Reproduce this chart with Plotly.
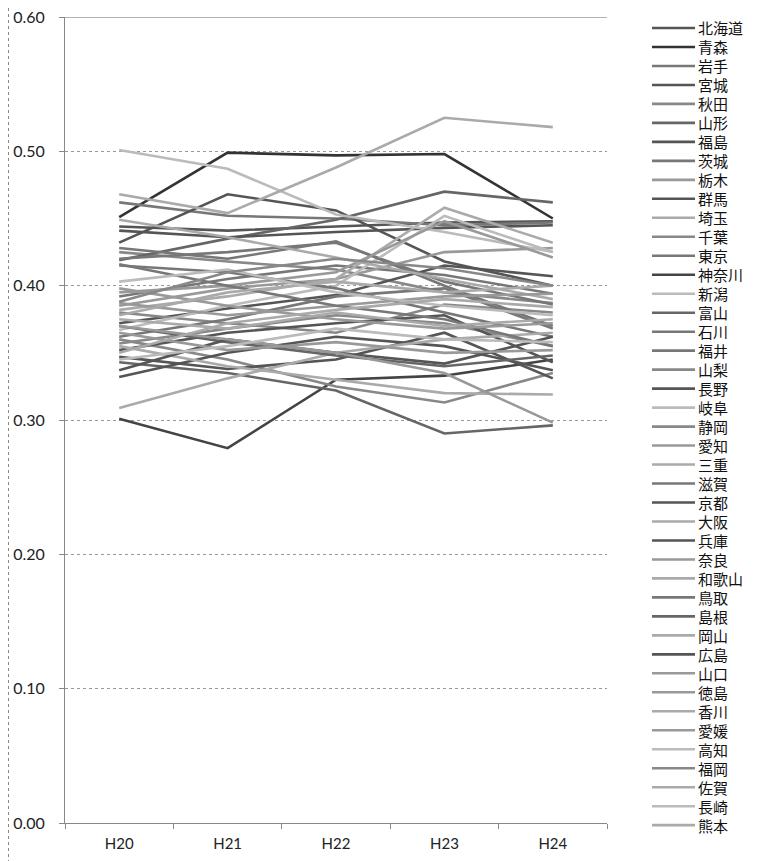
import plotly.graph_objects as go

years = ["H20", "H21", "H22", "H23", "H24"]

prefectures = ["北海道", "青森", "岩手", "宮城", "秋田", "山形", "福島", "茨城", "栃木", "群馬",
               "埼玉", "千葉", "東京", "神奈川", "新潟", "富山", "石川", "福井", "山梨", "長野",
               "岐阜", "静岡", "愛知", "三重", "滋賀", "京都", "大阪", "兵庫", "奈良", "和歌山",
               "鳥取", "島根", "岡山", "広島", "山口", "徳島", "香川", "愛媛", "高知", "福岡",
               "佐賀", "長崎", "熊本"]

values = [
    [0.444, 0.441, 0.444, 0.447, 0.448],  # 北海道
    [0.451, 0.499, 0.497, 0.498, 0.450],  # 青森
    [0.462, 0.452, 0.450, 0.445, 0.447],  # 岩手
    [0.432, 0.468, 0.456, 0.418, 0.400],  # 宮城
    [0.425, 0.418, 0.412, 0.395, 0.387],  # 秋田
    [0.419, 0.435, 0.449, 0.470, 0.462],  # 山形
    [0.441, 0.436, 0.440, 0.443, 0.445],  # 福島
    [0.392, 0.405, 0.415, 0.408, 0.394],  # 茨城
    [0.385, 0.398, 0.405, 0.425, 0.428],  # 栃木
    [0.372, 0.383, 0.393, 0.415, 0.407],  # 群馬
    [0.382, 0.392, 0.405, 0.458, 0.432],  # 埼玉
    [0.380, 0.372, 0.365, 0.386, 0.380],  # 千葉
    [0.420, 0.425, 0.432, 0.403, 0.386],  # 東京
    [0.301, 0.279, 0.330, 0.333, 0.345],  # 神奈川
    [0.367, 0.385, 0.400, 0.452, 0.425],  # 新潟
    [0.343, 0.335, 0.322, 0.290, 0.296],  # 富山
    [0.428, 0.420, 0.433, 0.400, 0.370],  # 石川
    [0.415, 0.410, 0.398, 0.380, 0.362],  # 福井
    [0.360, 0.345, 0.325, 0.313, 0.335],  # 山梨
    [0.332, 0.350, 0.362, 0.355, 0.337],  # 長野
    [0.501, 0.487, 0.453, 0.440, 0.425],  # 岐阜
    [0.357, 0.368, 0.378, 0.372, 0.355],  # 静岡
    [0.395, 0.400, 0.410, 0.448, 0.421],  # 愛知
    [0.468, 0.454, 0.488, 0.525, 0.518],  # 三重
    [0.362, 0.375, 0.392, 0.398, 0.368],  # 滋賀
    [0.347, 0.338, 0.345, 0.365, 0.331],  # 京都
    [0.449, 0.436, 0.421, 0.405, 0.390],  # 大阪
    [0.352, 0.365, 0.372, 0.378, 0.343],  # 兵庫
    [0.387, 0.378, 0.385, 0.392, 0.394],  # 奈良
    [0.309, 0.331, 0.350, 0.360, 0.365],  # 和歌山
    [0.416, 0.400, 0.385, 0.375, 0.355],  # 鳥取
    [0.370, 0.358, 0.348, 0.340, 0.348],  # 島根
    [0.355, 0.340, 0.330, 0.320, 0.319],  # 岡山
    [0.337, 0.360, 0.350, 0.342, 0.362],  # 広島
    [0.370, 0.360, 0.350, 0.335, 0.298],  # 山口
    [0.398, 0.385, 0.375, 0.368, 0.372],  # 徳島
    [0.378, 0.395, 0.403, 0.395, 0.400],  # 香川
    [0.365, 0.352, 0.358, 0.350, 0.352],  # 愛媛
    [0.403, 0.412, 0.395, 0.385, 0.378],  # 高知
    [0.388, 0.410, 0.420, 0.413, 0.400],  # 福岡
    [0.350, 0.372, 0.382, 0.390, 0.384],  # 佐賀
    [0.345, 0.355, 0.368, 0.360, 0.358],  # 長崎
    [0.375, 0.368, 0.380, 0.370, 0.375],  # 熊本
]

colors = ["#555555", "#333333", "#777777", "#555555", "#888888", "#666666", "#555555", "#777777",
          "#999999", "#555555", "#aaaaaa", "#888888", "#777777", "#444444", "#bbbbbb", "#666666",
          "#777777", "#777777", "#888888", "#555555", "#bbbbbb", "#888888", "#999999", "#aaaaaa",
          "#777777", "#555555", "#aaaaaa", "#555555", "#999999", "#aaaaaa", "#777777", "#666666",
          "#aaaaaa", "#555555", "#999999", "#999999", "#aaaaaa", "#999999", "#bbbbbb", "#888888",
          "#aaaaaa", "#bbbbbb", "#aaaaaa"]

y_ticks = [0.0, 0.1, 0.2, 0.3, 0.4, 0.5, 0.6]

font_main = "Lato, Noto Sans CJK JP, sans-serif"
font_jp = "Noto Sans CJK JP, sans-serif"

# the page body adds an 8px offset; figure coordinates = screen - 8
OFF = 8
W, H = 768 - OFF, 861 - OFF
L, T = 65 - OFF, 17 - OFF
R = W - (607 - OFF)
B = H - (823 - OFF)
pw = W - L - R
ph = H - T - B


def px_x(px):
    return (px - OFF - L) / pw


def px_y(py):
    return 1 - (py - OFF - T) / ph


fig = go.Figure()
for name, vals, col in zip(prefectures, values, colors):
    fig.add_trace(go.Scatter(x=years, y=vals, name=name, mode="lines",
                             line=dict(color=col, width=2.6), showlegend=False))

shapes = [
    dict(type="line", xref="paper", yref="paper",
         x0=px_x(8.5), x1=px_x(8.5), y0=px_y(H + OFF + 2), y1=px_y(OFF),
         line=dict(color="#888888", width=1, dash="dot"), layer="below"),
    dict(type="line", xref="paper", yref="y", x0=0, x1=1, y0=0.6, y1=0.6,
         line=dict(color="#666666", width=1), layer="below"),
]
annotations = []
legend_top, legend_step = 28, 18.98
for i, (name, col) in enumerate(zip(prefectures, colors)):
    yy = px_y(legend_top + legend_step * i)
    shapes.append(dict(type="line", xref="paper", yref="paper",
                       x0=px_x(652), x1=px_x(695), y0=yy, y1=yy,
                       line=dict(color=col, width=2.6)))
    annotations.append(dict(xref="paper", yref="paper", x=px_x(696), y=yy,
                            xanchor="left", yanchor="middle", text=name, showarrow=False,
                            font=dict(family=font_jp, size=15, color="#111111")))

fig.update_layout(
    width=W, height=H,
    margin=dict(l=L, r=R, t=T, b=B, pad=0, autoexpand=False),
    paper_bgcolor="white", plot_bgcolor="white",
    font=dict(family=font_main, size=15, color="#222222"),
    showlegend=False,
    xaxis=dict(type="category", categoryarray=years, tickson="boundaries",
               ticks="outside", ticklen=5, tickcolor="#888888",
               showgrid=False, showline=True, linecolor="#888888", linewidth=1,
               ticklabelstandoff=7, ticklabeloverflow="allow",
               tickfont=dict(family=font_main, size=15, color="#222222"),
               range=[-0.5, 4.5], automargin=False),
    yaxis=dict(range=[0, 0.6], tickvals=y_ticks, tickformat=".2f",
               ticks="outside", ticklen=5, tickcolor="#888888",
               showgrid=True, gridcolor="#999999", griddash="dot", gridwidth=1,
               showline=True, linecolor="#888888", linewidth=1,
               zeroline=False, ticklabelstandoff=11, automargin=False,
               ticklabeloverflow="allow",
               tickfont=dict(family=font_main, size=16, color="#222222")),
    shapes=shapes,
    annotations=annotations,
)

fig.write_html("out.html")
